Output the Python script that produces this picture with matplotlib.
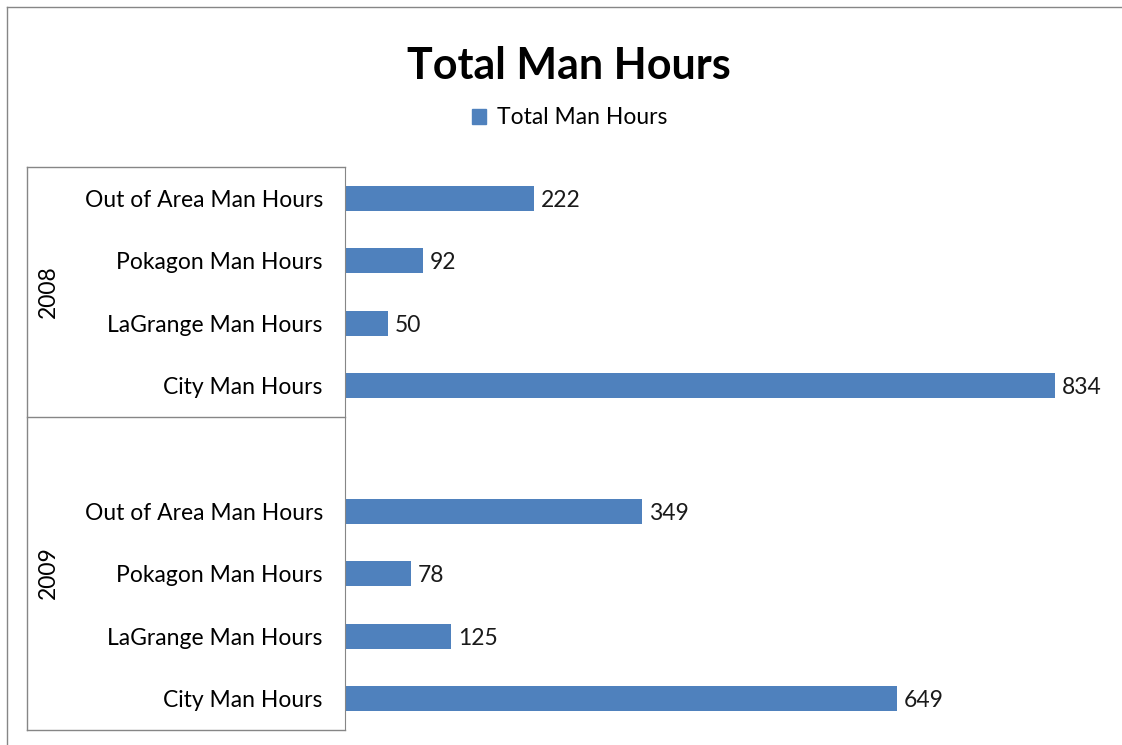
import matplotlib
matplotlib.use("Agg")
import matplotlib.pyplot as plt
from matplotlib.patches import Patch
from matplotlib.lines import Line2D

# data
categories = ["City Man Hours", "LaGrange Man Hours", "Pokagon Man Hours", "Out of Area Man Hours"]
years = ["2009", "2008"]
hours_2009 = [649, 125, 78, 349]
hours_2008 = [834, 50, 92, 222]

BAR_COLOR = "#4F81BD"
LINE_COLOR = "#868686"
W, H = 1122, 745
FS = 16.5

plt.rcParams["font.family"] = ["Lato", "DejaVu Sans"]

fig = plt.figure(figsize=(W / 100, H / 100), dpi=100)

# plot area in pixel coords of the reference
left, right, top, bottom = 345, 1111, 167, 730
ax = fig.add_axes([left / W, 1 - bottom / H, (right - left) / W, (bottom - top) / H])

# 2009 group at the bottom, a blank slot, then 2008
pos_2009 = [0, 1, 2, 3]
pos_2008 = [5, 6, 7, 8]
positions = pos_2009 + pos_2008
values = hours_2009 + hours_2008

ax.barh(positions, values, height=0.4, color=BAR_COLOR)
for y, v in zip(positions, values):
	ax.text(v + 8, y, str(v), va="center_baseline", ha="left", fontsize=FS, color="#1a1a1a")

ax.set_xlim(0, 900)
ax.set_ylim(-0.5, 8.5)
ax.set_xticks([])
ax.set_yticks(positions)
ax.set_yticklabels(categories + categories, fontsize=FS, va="center_baseline")
ax.tick_params(axis="y", length=0, pad=16)
for s in ["top", "right", "bottom"]:
	ax.spines[s].set_visible(False)
ax.spines["left"].set_color(LINE_COLOR)

# group box for the year level of the axis
def px_line(xs, ys):
	fig.add_artist(Line2D([x / W for x in xs], [1 - y / H for y in ys], color=LINE_COLOR, lw=1))

px_line([27, 345], [167, 167])
px_line([27, 345], [417, 417])
px_line([27, 345], [730, 730])
px_line([27, 27], [167, 730])

fig.text(48 / W, 1 - 292 / H, years[1], rotation=90, ha="center", va="center", fontsize=FS)
fig.text(48 / W, 1 - 573 / H, years[0], rotation=90, ha="center", va="center", fontsize=FS)

# outer chart border
px_line([7, 7], [7, 745])
px_line([7, 1122], [7, 7])

fig.text(569 / W, 1 - 66 / H, "Total Man Hours", ha="center", va="center", fontsize=31, fontweight="bold")
fig.legend(handles=[Patch(color=BAR_COLOR, label="Total Man Hours")], loc="center",
	bbox_to_anchor=(570 / W, 1 - 118 / H), frameon=False, fontsize=FS,
	handlelength=0.6, handleheight=0.6, handletextpad=0.5)

fig.savefig("out.png", dpi=100)
